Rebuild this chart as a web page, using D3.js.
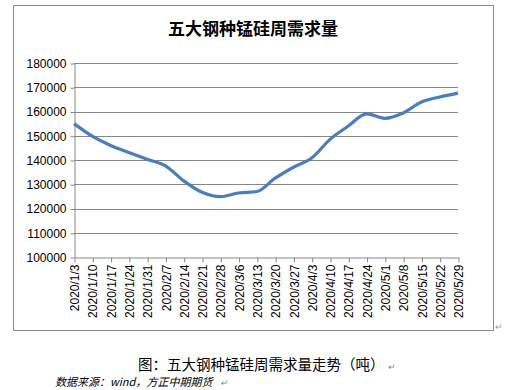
<!DOCTYPE html>
<html>
<head>
<meta charset="utf-8">
<script src="https://cdn.jsdelivr.net/npm/d3@7"></script>
<style>
  body { margin: 0; background: #fff; }
  svg text { font-family: "Liberation Sans", Arial, sans-serif; }
</style>
</head>
<body>
<div id="chart"></div>
<script>
// weekly data
var dates = ["2020/1/3", "2020/1/10", "2020/1/17", "2020/1/24", "2020/1/31", "2020/2/7",
  "2020/2/14", "2020/2/21", "2020/2/28", "2020/3/6", "2020/3/13", "2020/3/20",
  "2020/3/27", "2020/4/3", "2020/4/10", "2020/4/17", "2020/4/24", "2020/5/1",
  "2020/5/8", "2020/5/15", "2020/5/22", "2020/5/29"];
var demand = [155000, 149800, 146000, 143100, 140300, 137600,
  131400, 126700, 124900, 126400, 127000, 132500,
  137000, 140800, 148500, 154000, 159000, 157200,
  159400, 163900, 166000, 167600];
var yTicks = [100000, 110000, 120000, 130000, 140000, 150000, 160000, 170000, 180000];

var titleText = "五大钢种锰硅周需求量";
var captionText = "图：五大钢种锰硅周需求量走势（吨）";
var sourceText = "数据来源：wind，方正中期期货";

var w = 505, h = 390;

var svg = d3.select("#chart")
  .append("svg")
  .attr("width", w)
  .attr("height", h);

// chart frame
svg.append("rect")
  .attr("x", 13.5).attr("y", 5.5)
  .attr("width", 480).attr("height", 325)
  .attr("fill", "#fff")
  .attr("stroke", "#898989")
  .attr("stroke-width", 1);

svg.append("text")
  .attr("x", 253).attr("y", 35)
  .attr("text-anchor", "middle")
  .style("font-family", "'Noto Sans CJK SC', sans-serif")
  .style("font-weight", "bold")
  .style("font-size", "17px")
  .text(titleText);

var x = d3.scalePoint().domain(dates).range([74, 458]);
var y = d3.scaleLinear().domain([100000, 180000]).range([257, 63]);

// gridlines
svg.append("g")
  .selectAll("line")
  .data(yTicks.slice(1))
  .enter().append("line")
  .attr("x1", 74).attr("x2", 458)
  .attr("y1", function(d) { return Math.round(y(d)) + 0.5; })
  .attr("y2", function(d) { return Math.round(y(d)) + 0.5; })
  .attr("stroke", "#878787");

// y axis
var yAxis = svg.append("g")
  .attr("transform", "translate(74.5,0.5)")
  .call(d3.axisLeft(y).tickValues(yTicks).tickSize(4).tickSizeOuter(0).tickPadding(4)
    .tickFormat(d3.format("d")));
yAxis.selectAll("line, path").attr("stroke", "#878787");
yAxis.selectAll("text").style("font-size", "12px").attr("fill", "#000")
  .style("font-family", "'Liberation Sans', Arial, sans-serif");

// x axis
var xAxis = svg.append("g")
  .attr("transform", "translate(0.5," + (Math.round(y(100000)) + 0.5) + ")")
  .call(d3.axisBottom(x).tickSize(5).tickSizeOuter(0));
xAxis.selectAll("line, path").attr("stroke", "#878787");
xAxis.selectAll("text")
  .style("font-size", "12px").attr("fill", "#000")
  .style("font-family", "'Liberation Sans', Arial, sans-serif")
  .attr("text-anchor", "end")
  .attr("transform", "rotate(-90)")
  .attr("x", -7).attr("y", 0).attr("dy", "0.35em");

// line
var line = d3.line()
  .x(function(d, i) { return x(dates[i]); })
  .y(function(d) { return y(d); })
  .curve(d3.curveMonotoneX);

svg.append("path")
  .datum(demand)
  .attr("d", line)
  .attr("fill", "none")
  .attr("stroke", "#4a7ebb")
  .attr("stroke-width", 3.2)
  .attr("stroke-linejoin", "round");

// paragraph marks
svg.append("text")
  .attr("x", 495).attr("y", 330)
  .style("font-size", "9px").attr("fill", "#999")
  .text("↵");

var cap = svg.append("text")
  .attr("x", 138).attr("y", 370)
  .style("font-family", "'Noto Sans CJK SC', sans-serif")
  .style("font-size", "14.5px")
  .attr("fill", "#000");
cap.append("tspan").text(captionText);
cap.append("tspan").attr("dx", 3).style("font-size", "9px").attr("fill", "#888").text("↵");

var src = svg.append("text")
  .attr("x", 55).attr("y", 386)
  .style("font-family", "'Noto Sans CJK SC', sans-serif")
  .style("font-size", "11px")
  .style("font-style", "italic")
  .attr("fill", "#000");
src.append("tspan").text(sourceText);
src.append("tspan").attr("dx", 8).style("font-size", "9px").attr("fill", "#888").text("↵");
</script>
</body>
</html>
